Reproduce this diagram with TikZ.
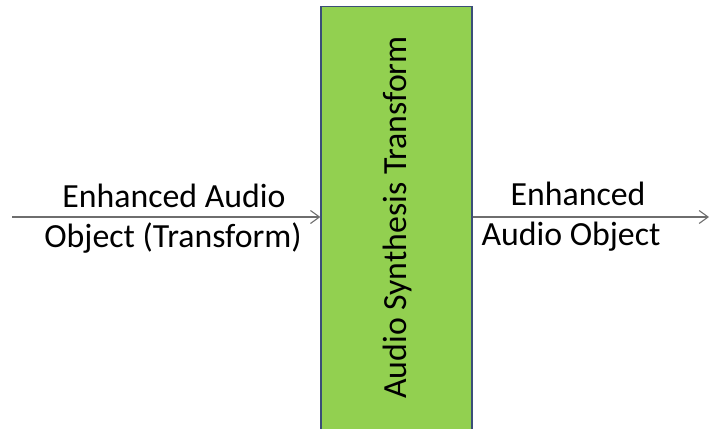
\documentclass[tikz,border=0pt]{standalone}
\usepackage{fontspec}
\setmainfont{Carlito}
\usetikzlibrary{arrows.meta}
\definecolor{blockgreen}{HTML}{92D050}
\definecolor{blockline}{HTML}{3B4E78}
\definecolor{wire}{HTML}{6E6E6E}
\begin{document}
\begin{tikzpicture}[x=0.5pt,y=-0.5pt,
  lbl/.style={inner sep=0pt,font=\fontsize{16.9}{20}\selectfont},
  flow/.style={draw=wire,line width=0.65pt,-{Straight Barb[length=4.5pt,width=6.5pt,line width=0.55pt]}}]
\useasboundingbox (0,0) rectangle (710,428);
\clip (0,0) rectangle (710,428);
\fill[white] (0,0) rectangle (710,428);

\node[draw=blockline,fill=blockgreen,line width=0.6pt,minimum width=75.5pt,minimum height=216.5pt,inner sep=0pt] (synth) at (396.5,223) {};
\node[lbl,rotate=90] (synthtext) at (397,217.5) {Audio Synthesis Transform};

\coordinate (in) at (12,217);
\coordinate (out) at (709,217);
\draw[flow] (in) -- (in -| synth.west);
\draw[flow] (in -| synth.east) -- (out);

\node[lbl,anchor=base] (in1) at (174,207) {Enhanced Audio};
\node[lbl,anchor=base] (in2) at (173,247) {Object (Transform)};
\node[lbl,anchor=base] (out1) at (578,205) {Enhanced};
\node[lbl,anchor=base] (out2) at (571,245) {Audio Object};
\end{tikzpicture}
\end{document}
